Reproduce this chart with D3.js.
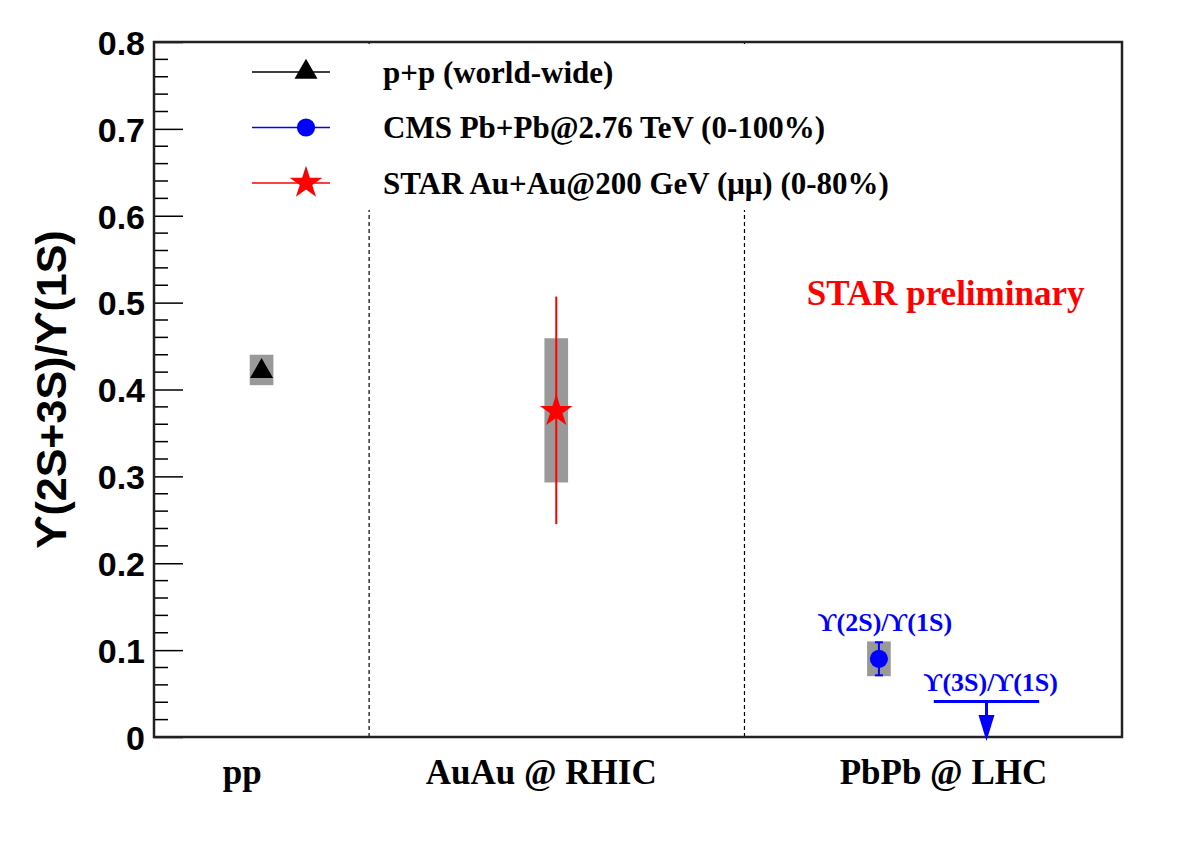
<!DOCTYPE html>
<html>
<head>
<meta charset="utf-8">
<script src="https://cdn.jsdelivr.net/npm/d3@7"></script>
<style>
    body { margin: 0; background: #fff; }
    svg { display: block; }
    .serif { font-family: "Liberation Serif", "Times New Roman", "DejaVu Serif", serif; font-weight: bold; }
    .sans { font-family: "Liberation Sans", Arial, "DejaVu Sans", sans-serif; font-weight: bold; }
</style>
</head>
<body>
<div id="chart"></div>
<script>
// categories on the x axis and where they sit (arbitrary x units)
const categories = ['pp', 'AuAu @ RHIC', 'PbPb @ LHC'];
const categoryPos = [0.41, 1.80, 3.67];
const dividers = [1.0, 2.745];

const yTicks = [0, 0.1, 0.2, 0.3, 0.4, 0.5, 0.6, 0.7, 0.8];

// measured points: x, value, stat low/high, sys low/high
const ppPoint = {x: 0.5, y: 0.422, statLo: 0.422, statHi: 0.422, sysLo: 0.405, sysHi: 0.440};
const starPoint = {x: 1.87, y: 0.375, statLo: 0.245, statHi: 0.507, sysLo: 0.293, sysHi: 0.459};
const cmsPoint = {x: 3.37, y: 0.090, statLo: 0.071, statHi: 0.109, sysLo: 0.070, sysHi: 0.110};
// upper limit for 3S/1S
const cmsLimit = {x: 3.87, y: 0.041, halfWidth: 0.245};

const legendLabels = ['p+p (world-wide)', 'CMS Pb+Pb@2.76 TeV (0-100%)', 'STAR Au+Au@200 GeV (\u03bc\u03bc) (0-80%)'];
const legendColors = ['#000', '#0000ff', '#ff0000'];

const UPS = '\u03d2';

const svgWidth = 1182, svgHeight = 848;
const margin = {top: 42, right: 60, bottom: 111, left: 154};
const width = svgWidth - margin.left - margin.right;
const height = svgHeight - margin.top - margin.bottom;

const xScale = d3.scaleLinear().domain([0, 4.5]).range([0, width]);
const yScale = d3.scaleLinear().domain([0, 0.8]).range([height, 0]);

const svg = d3.select('#chart').append('svg')
    .attr('width', svgWidth)
    .attr('height', svgHeight);

const g = svg.append('g').attr('transform', `translate(${margin.left},${margin.top})`);

// dashed separators
g.selectAll('.divider').data(dividers).enter().append('line')
    .attr('x1', d => xScale(d)).attr('x2', d => xScale(d))
    .attr('y1', yScale(0)).attr('y2', yScale(0.8))
    .attr('stroke', '#000').attr('stroke-width', 1.2)
    .attr('stroke-dasharray', '4,3');

// legend background covers dashed lines
g.append('rect')
    .attr('x', 83).attr('y', 3).attr('width', 590).attr('height', 165)
    .attr('fill', '#fff');

// y axis: major ticks inside, minor every 0.02
const yAxis = d3.axisLeft(yScale).tickValues(yTicks).tickFormat(d => d === 0 ? '0' : d3.format('.1f')(d))
    .tickSize(-29).tickPadding(9);
const yAxisG = g.append('g').call(yAxis);
yAxisG.select('.domain').remove();
yAxisG.selectAll('.tick line').attr('stroke', '#000').attr('stroke-width', 1.5);
yAxisG.selectAll('.tick text')
    .attr('class', 'sans').style('font-size', '34px').attr('fill', '#000').attr('dy', '0.36em');

const minorTicks = d3.range(0, 0.801, 0.02).filter(v => Math.abs(v * 10 - Math.round(v * 10)) > 1e-6);
g.selectAll('.minor').data(minorTicks).enter().append('line')
    .attr('x1', 0).attr('x2', 14)
    .attr('y1', d => yScale(d)).attr('y2', d => yScale(d))
    .attr('stroke', '#000').attr('stroke-width', 1.5);

// frame
g.append('rect')
    .attr('x', 0).attr('y', 0).attr('width', width).attr('height', height)
    .attr('fill', 'none').attr('stroke', '#222').attr('stroke-width', 2.5);

// category labels
g.selectAll('.cat').data(categories).enter().append('text')
    .attr('class', 'serif')
    .attr('x', (d, i) => xScale(categoryPos[i]))
    .attr('y', height + 47)
    .attr('text-anchor', 'middle')
    .style('font-size', '35px')
    .text(d => d);

// y axis title
svg.append('text')
    .attr('class', 'sans')
    .attr('transform', `translate(66,${margin.top + yScale(0.4)}) rotate(-90)`)
    .attr('text-anchor', 'middle')
    .style('font-size', '43px')
    .text(`${UPS}(2S+3S)/${UPS}(1S)`);

const gray = '#999999';
const boxHalf = 0.055;

function drawSys(p) {
    g.append('rect')
        .attr('x', xScale(p.x - boxHalf))
        .attr('y', yScale(p.sysHi))
        .attr('width', xScale(p.x + boxHalf) - xScale(p.x - boxHalf))
        .attr('height', yScale(p.sysLo) - yScale(p.sysHi))
        .attr('fill', gray);
}

function drawStat(p, color, caps) {
    g.append('line')
        .attr('x1', xScale(p.x)).attr('x2', xScale(p.x))
        .attr('y1', yScale(p.statLo)).attr('y2', yScale(p.statHi))
        .attr('stroke', color).attr('stroke-width', 2);
    if (caps) {
        [p.statLo, p.statHi].forEach(v => {
            g.append('line')
                .attr('x1', xScale(p.x) - 4).attr('x2', xScale(p.x) + 4)
                .attr('y1', yScale(v)).attr('y2', yScale(v))
                .attr('stroke', color).attr('stroke-width', 2);
        });
    }
}

const triangle = d3.symbol().type(d3.symbolTriangle).size(230);
const star = d3.symbol().type(d3.symbolStar).size(330);
const circle = d3.symbol().type(d3.symbolCircle).size(260);

drawSys(ppPoint);
g.append('path').attr('d', triangle)
    .attr('transform', `translate(${xScale(ppPoint.x)},${yScale(ppPoint.y) + 1})`)
    .attr('fill', '#000');

drawSys(starPoint);
drawStat(starPoint, '#ff0000', false);
g.append('path').attr('d', star)
    .attr('transform', `translate(${xScale(starPoint.x)},${yScale(starPoint.y)})`)
    .attr('fill', '#ff0000');

drawSys(cmsPoint);
drawStat(cmsPoint, '#0000ff', true);
g.append('path').attr('d', circle)
    .attr('transform', `translate(${xScale(cmsPoint.x)},${yScale(cmsPoint.y)})`)
    .attr('fill', '#0000ff');

// upper limit line with arrow
g.append('line')
    .attr('x1', xScale(cmsLimit.x - cmsLimit.halfWidth)).attr('x2', xScale(cmsLimit.x + cmsLimit.halfWidth))
    .attr('y1', yScale(cmsLimit.y)).attr('y2', yScale(cmsLimit.y))
    .attr('stroke', '#0000ff').attr('stroke-width', 3);
g.append('line')
    .attr('x1', xScale(cmsLimit.x)).attr('x2', xScale(cmsLimit.x))
    .attr('y1', yScale(cmsLimit.y)).attr('y2', yScale(0) - 20)
    .attr('stroke', '#0000ff').attr('stroke-width', 3);
g.append('path')
    .attr('d', `M${xScale(cmsLimit.x) - 8},${yScale(0) - 22} L${xScale(cmsLimit.x) + 8},${yScale(0) - 22} L${xScale(cmsLimit.x)},${yScale(0) + 4} Z`)
    .attr('fill', '#0000ff');

// point annotations
g.append('text').attr('class', 'serif')
    .attr('x', xScale(cmsPoint.x) + 6).attr('y', yScale(0.122))
    .attr('text-anchor', 'middle').attr('fill', '#0000ff')
    .style('font-size', '26px')
    .text(`${UPS}(2S)/${UPS}(1S)`);
g.append('text').attr('class', 'serif')
    .attr('x', xScale(cmsLimit.x + 0.02)).attr('y', yScale(0.053))
    .attr('text-anchor', 'middle').attr('fill', '#0000ff')
    .style('font-size', '26px')
    .text(`${UPS}(3S)/${UPS}(1S)`);

g.append('text').attr('class', 'serif')
    .attr('x', xScale(3.68)).attr('y', yScale(0.5) + 2)
    .attr('text-anchor', 'middle').attr('fill', '#ff0000')
    .style('font-size', '35px')
    .text('STAR preliminary');

// legend
const legend = g.append('g').attr('transform', 'translate(98,30)');
const legendItems = legend.selectAll('.item').data(legendLabels).enter().append('g')
    .attr('transform', (d, i) => `translate(0,${i * 55.5})`);
legendItems.append('line')
    .attr('x1', 0).attr('x2', 78).attr('y1', 0).attr('y2', 0)
    .attr('stroke', (d, i) => legendColors[i]).attr('stroke-width', 1.5);
legendItems.append('path')
    .attr('d', (d, i) => [triangle, circle, star][i]())
    .attr('transform', 'translate(54,0)')
    .attr('fill', (d, i) => legendColors[i]);
legendItems.append('text').attr('class', 'serif')
    .attr('x', 131).attr('y', 0).attr('dy', '0.35em')
    .style('font-size', '31px')
    .text(d => d);
</script>
</body>
</html>
